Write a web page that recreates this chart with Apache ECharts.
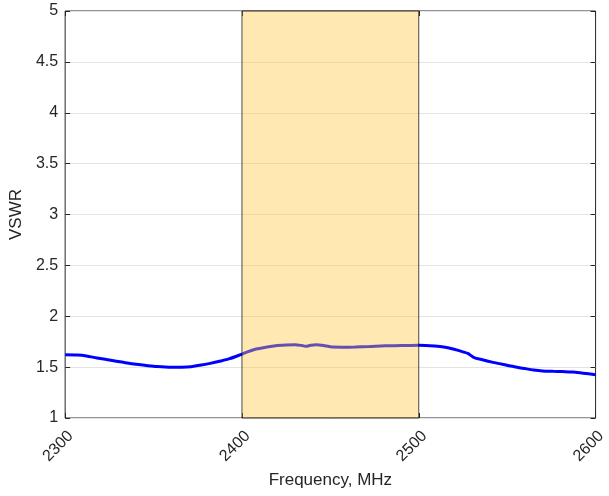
<!DOCTYPE html>
<html>
<head>
<meta charset="utf-8">
<script src="https://cdn.jsdelivr.net/npm/echarts@6/dist/echarts.min.js"></script>
<style>
  html, body { margin: 0; padding: 0; background: #fff; }
  #chart { width: 609px; height: 496px; }
</style>
</head>
<body>
<div id="chart"></div>
<script>
// Data
const frequency = [2300, 2307, 2312, 2318, 2325, 2333, 2340, 2345, 2352, 2360, 2366, 2371, 2377, 2382, 2388, 2393,
  2400, 2404, 2408, 2414, 2419, 2425, 2430, 2434, 2436, 2439, 2442, 2447, 2451, 2457, 2464, 2472, 2481, 2490,
  2500, 2509, 2515, 2520, 2525, 2528, 2531, 2536, 2542, 2548, 2554, 2560, 2565, 2570, 2576, 2581, 2587, 2593, 2600];
const vswr = [1.622, 1.619, 1.61, 1.59, 1.57, 1.547, 1.528, 1.518, 1.505, 1.498, 1.499, 1.504, 1.52, 1.537, 1.56, 1.583,
  1.628, 1.655, 1.678, 1.697, 1.71, 1.717, 1.72, 1.712, 1.705, 1.715, 1.72, 1.71, 1.697, 1.696, 1.698, 1.703, 1.71, 1.712,
  1.716, 1.708, 1.695, 1.675, 1.65, 1.632, 1.597, 1.572, 1.547, 1.525, 1.504, 1.486, 1.472, 1.463, 1.459, 1.456, 1.452, 1.44, 1.426];
const band = [2400, 2500];
const xTicks = [2300, 2400, 2500, 2600];
const yRange = [1, 5];
const xTitle = 'Frequency, MHz';
const yTitle = 'VSWR';

const textColor = '#262626';
const font = "'Liberation Sans', Arial, Helvetica, sans-serif";

const chart = echarts.init(document.getElementById('chart'), null, { renderer: 'canvas' });
const option = {
  animation: false,
  backgroundColor: '#ffffff',
  grid: {
    left: 62, right: 11, top: 11, bottom: 78,
    show: true, borderColor: '#262626', borderWidth: 1, backgroundColor: '#ffffff'
  },
  xAxis: [{
    type: 'value',
    min: xTicks[0], max: xTicks[xTicks.length - 1], interval: 100,
    name: xTitle, nameLocation: 'middle', nameGap: 54,
    nameTextStyle: { color: textColor, fontSize: 17, fontFamily: font },
    axisLine: { show: false },
    axisTick: { show: true, inside: true, length: 5, lineStyle: { color: '#262626' } },
    axisLabel: { color: textColor, fontSize: 16, fontFamily: font, rotate: 45, margin: 10,
      verticalAlign: 'top', align: 'right', formatter: v => String(v) },
    splitLine: { show: false }
  }, {
    type: 'value', position: 'top',
    min: xTicks[0], max: xTicks[xTicks.length - 1], interval: 100,
    axisLine: { show: false }, axisLabel: { show: false },
    axisTick: { show: true, inside: true, length: 5, lineStyle: { color: '#262626' } },
    splitLine: { show: false }
  }],
  yAxis: [{
    type: 'value', min: yRange[0], max: yRange[1], interval: 0.5,
    name: yTitle, nameLocation: 'middle', nameGap: 40,
    nameTextStyle: { color: textColor, fontSize: 17, fontFamily: font },
    axisLine: { show: false },
    axisTick: { show: true, inside: true, length: 5, lineStyle: { color: '#262626' } },
    axisLabel: { color: textColor, fontSize: 16, fontFamily: font, margin: 7 },
    splitLine: { show: true, lineStyle: { color: '#e3e3e3', width: 1 } }
  }, {
    type: 'value', position: 'right', min: yRange[0], max: yRange[1], interval: 0.5,
    axisLine: { show: false }, axisLabel: { show: false },
    axisTick: { show: true, inside: true, length: 5, lineStyle: { color: '#262626' } },
    splitLine: { show: false }
  }],
  series: [{
    type: 'line',
    data: frequency.map((f, i) => [f, vswr[i]]),
    showSymbol: false, symbol: 'none',
    smooth: 0.3,
    lineStyle: { color: '#0000ff', width: 3 },
    z: 2
  }, {
    type: 'line',
    data: [],
    z: 5,
    markArea: {
      silent: true,
      z: 5,
      itemStyle: { color: 'rgba(255,197,62,0.4)', borderColor: 'rgba(0,0,0,0.7)', borderWidth: 1 },
      data: [[{ xAxis: band[0], yAxis: yRange[0] }, { xAxis: band[1], yAxis: yRange[1] }]]
    }
  }]
};
chart.setOption(option);
</script>
</body>
</html>
